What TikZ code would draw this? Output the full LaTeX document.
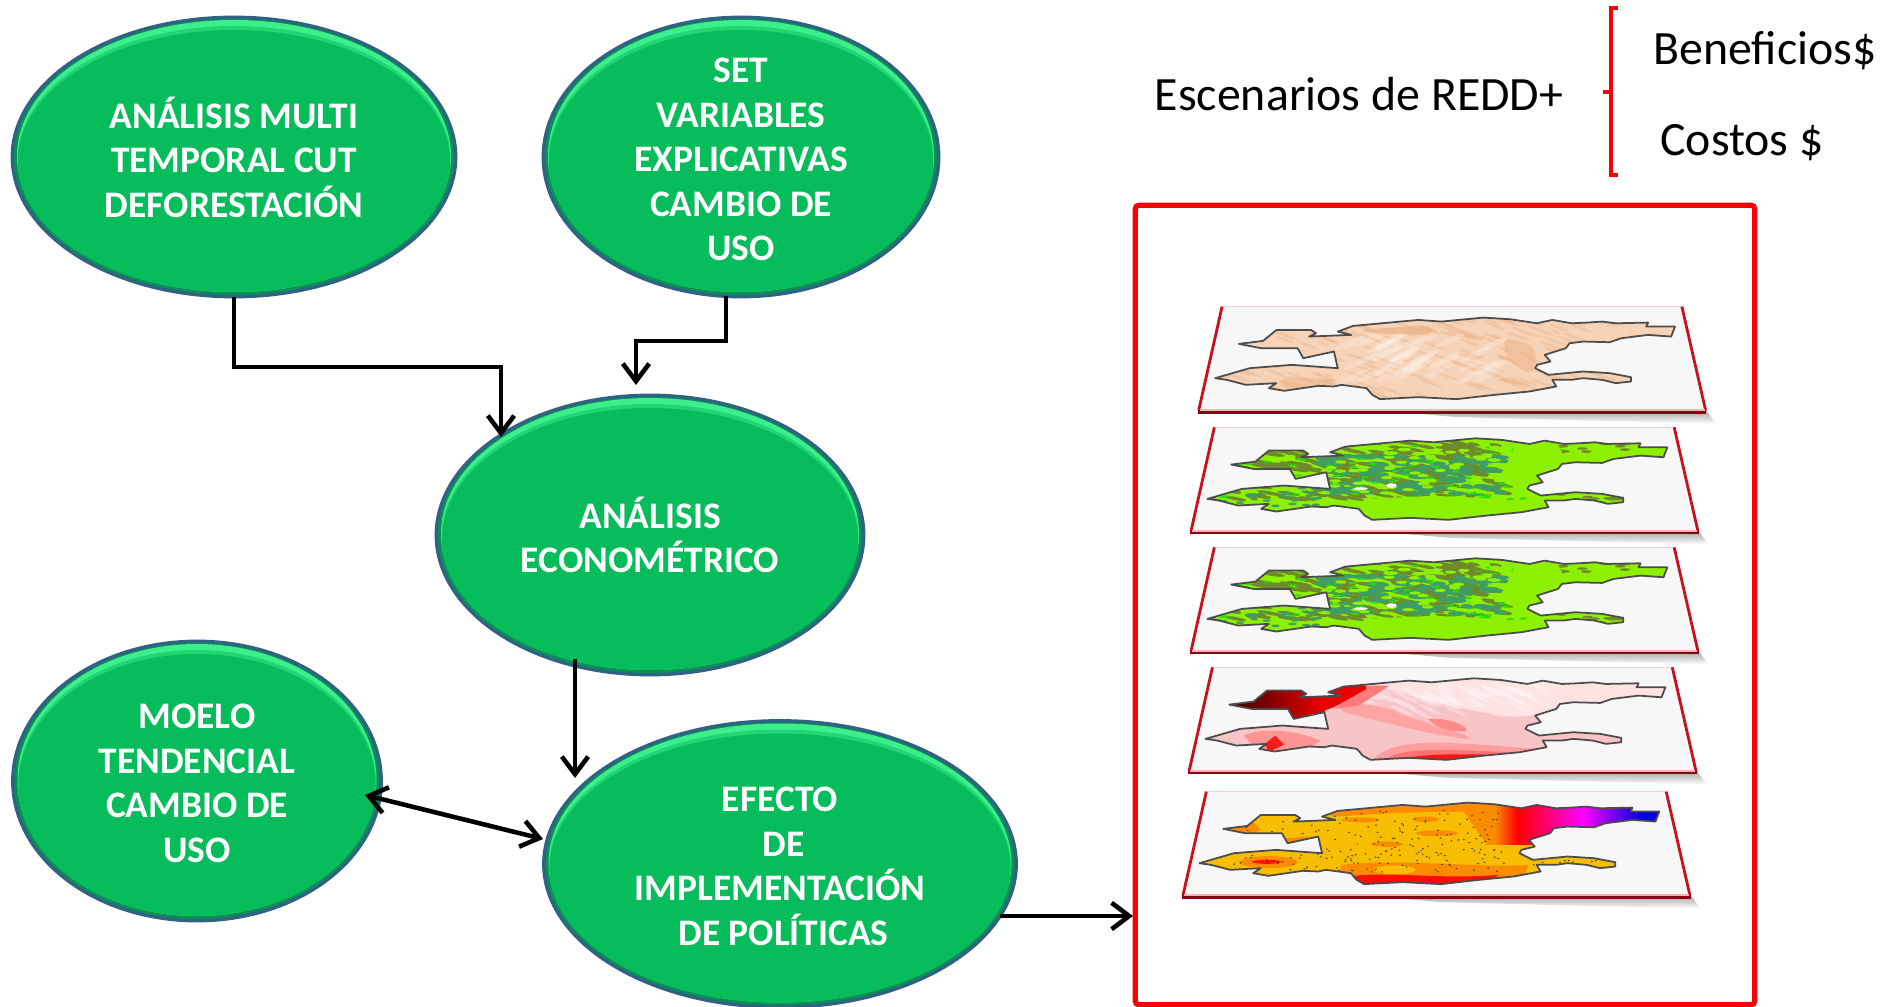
\documentclass[tikz,border=0pt]{standalone}
\usepackage{fontspec}
\setmainfont{Carlito}
\usetikzlibrary{arrows.meta,shapes.geometric}

\definecolor{ovalmain}{HTML}{07BC5A}
\definecolor{ovalglow}{HTML}{3DEE8C}
\definecolor{ovaldark}{HTML}{0A8F55}
\definecolor{ovaledge}{HTML}{2F6283}
\definecolor{framered}{HTML}{F80008}
\definecolor{layerred}{HTML}{C8101E}
\definecolor{layerdark}{HTML}{8A0010}
\definecolor{peach}{HTML}{F6D2B6}
\definecolor{peachdark}{HTML}{E9A878}
\definecolor{limeland}{HTML}{8CF000}
\definecolor{oliveland}{HTML}{6E8A2C}
\definecolor{tealland}{HTML}{3F9E62}
\definecolor{brightland}{HTML}{22E010}
\definecolor{pinkland}{HTML}{F8C4C6}
\definecolor{goldland}{HTML}{F7BE00}
\definecolor{amberland}{HTML}{FB8C00}

\tikzset{
    greenoval/.style 2 args={ellipse, draw=ovaledge, line width=0.8pt, fill=ovaledge, inner sep=-8pt, outer sep=0pt,
        minimum width=(#1-2)*0.01cm, minimum height=(#2-2)*0.01cm, text=white, align=center,
        font=\bfseries\fontsize{10.65}{12.65}\selectfont,
        path picture={
            \fill[ovaldark] (path picture bounding box.center) ellipse [x radius={(#1*0.5-3)*0.01cm}, y radius={(#2*0.5-3)*0.01cm}];
            \fill[ovalglow] (path picture bounding box.center) ++(0,-1) ellipse [x radius={(#1*0.5-6)*0.01cm}, y radius={(#2*0.5-5)*0.01cm}];
            \fill[ovalglow!50!ovalmain] (path picture bounding box.center) ++(0,2) ellipse [x radius={(#1*0.5-6.5)*0.01cm}, y radius={(#2*0.5-8)*0.01cm}];
            \fill[ovalmain] (path picture bounding box.center) ++(0,4) ellipse [x radius={(#1*0.5-7)*0.01cm}, y radius={(#2*0.5-10)*0.01cm}];
        }},
    flowline/.style={line width=1.3pt, black, -{Straight Barb[length=5pt,width=7.5pt]}},
    bothline/.style={line width=1.3pt, black, {Straight Barb[length=5pt,width=7.5pt]}-{Straight Barb[length=5pt,width=7.5pt]}},
    plaintext/.style={inner sep=0pt, font=\fontsize{13.6}{15}\selectfont}
}
\newcommand{\ovaltop}{\rule{0pt}{8.4pt}}

% silhouette of the region, in the units of one layer
\newcommand{\mapoutline}{(232,192) -- (295,183) -- (330,150) -- (420,150) -- (433,160) -- (415,170) -- (525,165) -- (490,155) -- (530,138) -- (700,120) -- (760,125) -- (870,113) -- (940,118) -- (1010,130) -- (1050,120) -- (1100,130) -- (1140,128) -- (1180,125) -- (1215,130) -- (1300,128) -- (1295,140) -- (1370,140) -- (1360,170) -- (1300,165) -- (1230,175) -- (1200,187) -- (1130,185) -- (1095,190) -- (1085,205) -- (1030,225) -- (1045,245) -- (1010,255) -- (1005,265) -- (1040,285) -- (1130,275) -- (1200,280) -- (1255,292) -- (1255,305) -- (1215,310) -- (1180,300) -- (1130,295) -- (1100,300) -- (1050,300) -- (1060,320) -- (990,335) -- (900,345) -- (800,358) -- (700,352) -- (600,358) -- (580,345) -- (565,325) -- (500,315) -- (480,320) -- (440,318) -- (350,333) -- (310,325) -- (330,310) -- (250,315) -- (200,300) -- (170,295) -- (260,265) -- (370,255) -- (490,265) -- (480,215) -- (400,235) -- (385,205) -- (290,205) -- cycle}

% one sheet of the stack: offset, colour of the region, what lies on it
\newcommand{\maplayer}[4]{
    \begin{scope}[shift={(1150+#1,280+#2)}, x=0.003831cm, y=-0.003333cm]
        \shade[top color=gray!70, bottom color=white] (600,392) -- (1452,392) -- (1478,432) -- (800,412) -- cycle;
        \fill[gray!25] (188,80) -- (180,110) -- (170,130) -- (186,100) -- cycle;
        \fill[white!97!black] (188,80) -- (1388,80) -- (1450,392) -- (127,392) -- cycle;
        \draw[red!20, line width=0.3pt] (188,80) -- (1388,80);
        \draw[layerred, line width=0.8pt] (188,80) -- (127,392) (1388,80) -- (1450,392);
        \draw[layerdark, line width=1.1pt] (125,396) -- (1452,396);
        \draw[red!30, line width=0.4pt] (130,391) -- (1448,391);
        \begin{scope}
            \clip \mapoutline;
            \fill[#3] (100,80) rectangle (1450,392);
            #4
        \end{scope}
        \draw[black!70, line width=0.5pt, line join=round] \mapoutline;
    \end{scope}
}

% what lies on each sheet
\newcommand{\peachbody}{
    \pgfmathsetseed{11}
    \foreach \k in {1,...,220} {
        \pgfmathsetmacro{\px}{170+rnd*1200}
        \pgfmathsetmacro{\py}{115+rnd*245}
        \pgfmathsetmacro{\pw}{12+rnd*30}
        \fill[peachdark, opacity=.3, rotate around={-20:(\px,\py)}] (\px,\py) ellipse [x radius=\pw, y radius=4];
    }
    \foreach \k in {1,...,40} {
        \pgfmathsetmacro{\px}{520+rnd*380}
        \pgfmathsetmacro{\py}{175+rnd*120}
        \fill[white, opacity=.22, rotate around={25:(\px,\py)}] (\px,\py) ellipse [x radius=45, y radius=8];
    }
    \fill[peachdark, opacity=.55, rounded corners=3pt] (540,150) -- (740,135) -- (745,165) -- (600,162) -- cycle;
    \fill[peachdark, opacity=.4, rounded corners=3pt] (340,290) -- (500,300) -- (440,325) -- (340,330) -- cycle;
    \fill[peachdark, opacity=.4, rounded corners=3pt] (920,170) -- (1010,200) -- (1000,290) -- (930,240) -- cycle;
}
\newcommand{\greenbody}{
    \pgfmathsetseed{5}
    \foreach \k in {1,...,260} {
        \pgfmathsetmacro{\px}{230+rnd*710}
        \pgfmathsetmacro{\py}{125+rnd*170}
        \pgfmathsetmacro{\pw}{10+rnd*28}
        \fill[oliveland, rotate around={-10:(\px,\py)}] (\px,\py) ellipse [x radius=\pw, y radius=5];
    }
    \foreach \k in {1,...,110} {
        \pgfmathsetmacro{\px}{470+rnd*470}
        \pgfmathsetmacro{\py}{165+rnd*115}
        \pgfmathsetmacro{\pw}{10+rnd*26}
        \fill[tealland] (\px,\py) ellipse [x radius=\pw, y radius=7];
    }
    \foreach \k in {1,...,90} {
        \pgfmathsetmacro{\px}{200+rnd*800}
        \pgfmathsetmacro{\py}{130+rnd*170}
        \fill[brightland] (\px,\py) ellipse [x radius=10, y radius=3];
    }
    \foreach \k in {1,...,70} {
        \pgfmathsetmacro{\px}{470+rnd*470}
        \pgfmathsetmacro{\py}{130+rnd*150}
        \fill[limeland] (\px,\py) ellipse [x radius=15, y radius=5];
    }
    \foreach \k in {1,...,30} {
        \pgfmathsetmacro{\px}{170+rnd*310}
        \pgfmathsetmacro{\py}{262+rnd*55}
        \fill[tealland] (\px,\py) ellipse [x radius=11, y radius=4];
    }
    \foreach \k in {1,...,22} {
        \pgfmathsetmacro{\px}{1090+rnd*170}
        \pgfmathsetmacro{\py}{125+(\k>11)*155+rnd*30}
        \fill[oliveland] (\px,\py) ellipse [x radius=14, y radius=4];
    }
    \fill[limeland, rounded corners=6pt] (560,296) -- (780,285) -- (980,300) -- (900,360) -- (560,360) -- cycle;
    \fill[limeland, rounded corners=6pt] (950,110) -- (1100,110) -- (1090,200) -- (1000,240) -- cycle;
    \fill[white] (650,255) ellipse [x radius=14, y radius=7] (570,264) ellipse [x radius=18, y radius=4];
}
\newcommand{\pinkbody}{
    \fill[red!11, rounded corners=8pt] (560,110) -- (1380,110) -- (1380,205) -- (1090,205) -- (1000,240) -- (760,185) -- cycle;
    \pgfmathsetseed{9}
    \foreach \k in {1,...,50} {
        \pgfmathsetmacro{\px}{560+rnd*480}
        \pgfmathsetmacro{\py}{120+rnd*100}
        \fill[white, opacity=.3, rotate around={-25:(\px,\py)}] (\px,\py) ellipse [x radius=32, y radius=6];
    }
    \fill[red!36, rounded corners=8pt] (480,200) -- (600,180) -- (720,240) -- (900,300) -- (800,290) -- (650,250) -- cycle;
    \fill[red!46] (750,235) .. controls (810,230) and (860,260) .. (850,272) .. controls (800,275) and (770,260) .. (750,235);
    \fill[red!38] (600,365) .. controls (660,290) and (760,300) .. (1030,325) -- (800,370) -- cycle;
    \fill[red!55] (625,365) .. controls (680,320) and (760,325) .. (960,335) -- (800,370) -- cycle;
    \fill[red!92] (640,370) .. controls (700,340) and (800,340) .. (900,342) -- (800,370) -- cycle;
    \fill[red!42] (270,285) .. controls (330,255) and (420,275) .. (470,300) -- (440,325) -- (310,340) -- cycle;
    \fill[red!90] (325,310) -- (352,285) -- (375,312) -- (335,335) -- cycle;
    \fill[red!52] (505,205) -- (590,135) -- (650,135) -- (570,195) -- cycle;
    \fill[red!92!black] (400,150) -- (585,130) -- (590,145) -- (505,200) -- (400,240) -- cycle;
    \shade[left color=black!80!red, right color=red!92!black] (225,100) rectangle (480,240);
}
\newcommand{\flamebody}{
    % orange rims
    \fill[amberland] (480,135) -- (940,105) -- (980,240) -- (920,240) -- (860,140) -- (700,143) -- (520,155) -- cycle;
    \fill[amberland] (225,180) -- (300,160) -- (330,195) -- (295,210) -- cycle;
    \fill[amberland] (395,220) -- (460,215) -- (400,240) -- cycle;
    \fill[amberland] (350,292) ellipse [x radius=75, y radius=18];
    \fill[red!85!orange] (345,291) ellipse [x radius=38, y radius=6];
    \fill[amberland] (790,205) ellipse [x radius=55, y radius=9] (660,238) ellipse [x radius=42, y radius=8] (590,165) ellipse [x radius=50, y radius=7] (760,163) ellipse [x radius=35, y radius=8];
    \fill[amberland] (540,300) .. controls (700,280) and (900,310) .. (1030,300) -- (1000,380) -- (520,380) -- cycle;
    \fill[goldland] (680,315) ellipse [x radius=55, y radius=13];
    \fill[red!90!orange] (560,335) .. controls (660,318) and (800,345) .. (950,330) -- (900,380) -- (520,380) -- cycle;
    \fill[red!70!magenta] (700,368) .. controls (740,340) and (800,345) .. (830,372) -- cycle;
    % the far end runs from red to blue
    \shade[left color=amberland, right color=red] (940,100) rectangle (1000,238);
    \shade[left color=red, right color=magenta] (1000,100) rectangle (1170,238);
    \shade[left color=magenta, right color=blue!90!black] (1170,100) rectangle (1320,238);
    \fill[blue!90!black] (1320,100) rectangle (1400,238);
    \pgfmathsetseed{3}
    \foreach \k in {1,...,230} {
        \pgfmathsetmacro{\px}{230+rnd*740}
        \pgfmathsetmacro{\py}{135+rnd*190}
        \fill[black!65!olive] (\px,\py) ellipse [x radius=2.8, y radius=2.2];
    }
    \foreach \k in {1,...,10} {
        \pgfmathsetmacro{\px}{1040+rnd*170}
        \pgfmathsetmacro{\py}{285+rnd*18}
        \fill[black!65!olive] (\px,\py) ellipse [x radius=2.8, y radius=2.2];
    }
}

\begin{document}
\begin{tikzpicture}[x=0.01cm,y=-0.01cm]
    \useasboundingbox (0,0) rectangle (1883,1007);

    \node (multi) [greenoval={446}{282}] at (234,157) {ANÁLISIS MULTI\\TEMPORAL CUT\\DEFORESTACIÓN};
    \node (set) [greenoval={398}{282}] at (741,157) {\ovaltop SET\\VARIABLES\\EXPLICATIVAS\\CAMBIO DE\\USO};
    \node (econ) [greenoval={430}{282}] at (650,535) {ANÁLISIS\\ECONOMÉTRICO};
    \node (moelo) [greenoval={371}{282}] at (197,781) {\ovaltop MOELO\\TENDENCIAL\\CAMBIO DE\\USO};
    \node (efecto) [greenoval={475}{289}] at (780,864) {\ovaltop EFECTO\\\hspace*{2pt}DE\\IMPLEMENTACIÓN\\\hspace*{2pt}DE POLÍTICAS};

    \node (frame) [draw=framered, line width=1.5pt, rounded corners=1pt, minimum width=6.19cm, minimum height=7.99cm, inner sep=0pt] at (1445,605) {};

    % stacked sheets
    \maplayer{0}{0}{peach}{\peachbody}
    \maplayer{-7.7}{120.7}{limeland}{\greenbody}
    \maplayer{-7.7}{240.7}{limeland}{\greenbody}
    \maplayer{-9.6}{360.7}{pinkland}{\pinkbody}
    \maplayer{-15.7}{485}{goldland}{\flamebody}

    \coordinate (multibend) at (235,367);
    \coordinate (econin) at (501,437);
    \coordinate (setout) at (726,296);
    \coordinate (setin) at (636,385);
    \coordinate (econout) at (575,659);
    \coordinate (efectoin) at (575,778);
    \coordinate (moeloside) at (365,795);
    \coordinate (efectoside) at (543,839);
    \coordinate (efectoout) at (1000,916);
    \coordinate (framein) at (1133,916);

    \draw[flowline] (multi.south) |- (multibend -| econin) -- (econin);
    \draw[flowline] (setout) |- (636,341) -- (setin);
    \draw[flowline] (econout) -- (efectoin);
    \draw[bothline] (moeloside) -- (efectoside);
    \draw[flowline] (efectoout) -- (framein);

    \node (escenarios) [plaintext] at (1359,94) {Escenarios de REDD+};
    \node (beneficios) [plaintext] at (1765,51) {Beneficios\$};
    \node (costos) [plaintext] at (1742,143) {Costos \$};

    \coordinate (bracetop) at (1618,8);
    \coordinate (bracebottom) at (1618,175);
    \coordinate (bracenib) at (1603,92);
    \draw[framered, line width=1.3pt] (bracetop) -- (1611,8) -- (1611,175) -- (bracebottom);
    \draw[framered, line width=1.3pt] (bracenib) -- (1611,92);
\end{tikzpicture}
\end{document}
